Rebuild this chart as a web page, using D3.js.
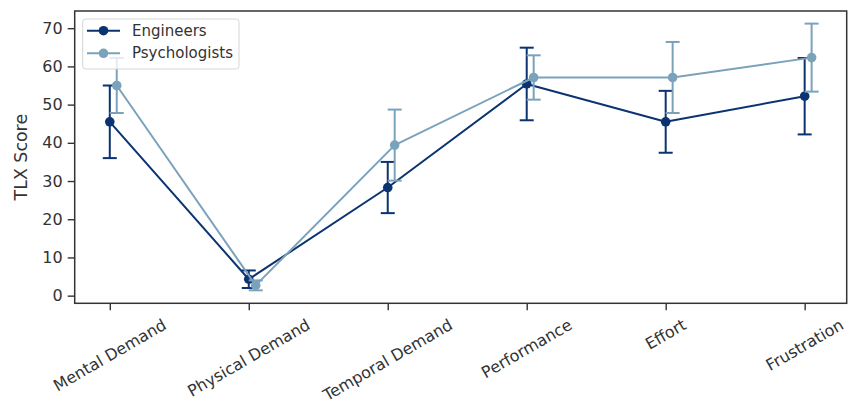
<!DOCTYPE html>
<html>
<head>
<meta charset="utf-8">
<script src="https://cdn.jsdelivr.net/npm/d3@7"></script>
<style>
  html, body { margin: 0; padding: 0; background: #fff; }
  svg { display: block; font-family: "DejaVu Sans", sans-serif; }
</style>
</head>
<body>
<svg id="chart" width="850" height="410"></svg>
<script>
const categories = ["Mental Demand", "Physical Demand", "Temporal Demand", "Performance", "Effort", "Frustration"];
const seriesNames = ["Engineers", "Psychologists"];
const engineersMean = [45.5, 4.3, 28.3, 55.4, 45.5, 52.2];
const engineersErr = [9.5, 2.3, 6.7, 9.5, 8.1, 10.0];
const psychologistsMean = [55.0, 2.7, 39.4, 57.1, 57.1, 62.3];
const psychologistsErr = [7.2, 1.3, 9.3, 5.8, 9.3, 8.9];
const yTicks = [0, 10, 20, 30, 40, 50, 60, 70];

const colors = { Engineers: "#0b3371", Psychologists: "#7aa2bb" };
const textColor = "#333333";

const svg = d3.select("#chart");
const plotLeft = 74.7, plotRight = 846.7, plotTop = 11, plotBottom = 303.3;

const x = d3.scaleLinear().domain([-0.2525, 5.3025]).range([plotLeft, plotRight]);
const y = d3.scaleLinear().domain([-2.0, 74.5]).range([plotBottom, plotTop]);
const dodge = [0, 0.05];

const series = [
  { name: seriesNames[0], mean: engineersMean, err: engineersErr, off: dodge[0] },
  { name: seriesNames[1], mean: psychologistsMean, err: psychologistsErr, off: dodge[1] }
];

// Y axis
const yAxis = d3.axisLeft(y).tickValues(yTicks).tickSize(7).tickPadding(5);
const gy = svg.append("g").attr("transform", `translate(${plotLeft},0)`).call(yAxis);
gy.select(".domain").remove();
gy.selectAll(".tick line").attr("stroke", "#333").attr("stroke-width", 1.4);
gy.selectAll(".tick text").attr("fill", textColor).style("font-size", "16px")
  .style("font-family", "DejaVu Sans");

// X axis
const xAxis = d3.axisBottom(x).tickValues(d3.range(categories.length)).tickSize(7).tickFormat("");
const gx = svg.append("g").attr("transform", `translate(0,${plotBottom})`).call(xAxis);
gx.select(".domain").remove();
gx.selectAll(".tick line").attr("stroke", "#333").attr("stroke-width", 1.4);

// Rotated x labels, bbox centred under tick like matplotlib
const fs = 16, lineH = fs * 1.164;
const rad = 30 * Math.PI / 180;
categories.forEach((c, i) => {
  const t = svg.append("text")
    .text(c)
    .attr("fill", textColor)
    .style("font-size", fs + "px")
    .attr("text-anchor", "middle")
    .attr("dominant-baseline", "central");
  const w = t.node().getComputedTextLength();
  const H = w * Math.sin(rad) + lineH * Math.cos(rad);
  const cy = plotBottom + 7 + 5 + H / 2;
  t.attr("transform", `translate(${x(i)},${cy}) rotate(-30)`);
});

// Y label
svg.append("text")
  .text("TLX Score")
  .attr("fill", textColor)
  .style("font-size", "17.4px")
  .attr("text-anchor", "middle")
  .attr("dominant-baseline", "central")
  .attr("transform", `translate(21,${(plotTop + plotBottom) / 2}) rotate(-90)`);

// Series
const cap = 7;
const line = d3.line().x(d => d[0]).y(d => d[1]);
series.forEach(s => {
  const col = colors[s.name];
  const g = svg.append("g");
  const pts = s.mean.map((m, i) => [x(i + s.off), y(m)]);
  s.mean.forEach((m, i) => {
    const cx = x(i + s.off);
    const y1 = y(m - s.err[i]), y2 = y(m + s.err[i]);
    g.append("line").attr("x1", cx).attr("x2", cx).attr("y1", y1).attr("y2", y2)
      .attr("stroke", col).attr("stroke-width", 2);
    [y1, y2].forEach(yy => g.append("line").attr("x1", cx - cap).attr("x2", cx + cap)
      .attr("y1", yy).attr("y2", yy).attr("stroke", col).attr("stroke-width", 2));
  });
  g.append("path").attr("d", line(pts)).attr("fill", "none")
    .attr("stroke", col).attr("stroke-width", 2).attr("stroke-linejoin", "round");
  g.selectAll("circle").data(pts).enter().append("circle")
    .attr("cx", d => d[0]).attr("cy", d => d[1]).attr("r", 4.8).attr("fill", col);
});

// Frame
svg.append("rect").attr("x", plotLeft).attr("y", plotTop).attr("width", plotRight - plotLeft).attr("height", plotBottom - plotTop)
  .attr("fill", "none").attr("stroke", "#333").attr("stroke-width", 1.5);

// Legend
const lg = svg.append("g");
lg.append("rect").attr("x", 82.7).attr("y", 19).attr("width", 156.3).attr("height", 50)
  .attr("rx", 3).attr("fill", "#fff").attr("fill-opacity", 0.8)
  .attr("stroke", "#d6d6d6").attr("stroke-width", 1);
series.forEach((s, i) => {
  const yy = 30.7 + i * 22.6;
  const col = colors[s.name];
  lg.append("line").attr("x1", 87).attr("x2", 120).attr("y1", yy).attr("y2", yy)
    .attr("stroke", col).attr("stroke-width", 2);
  lg.append("circle").attr("cx", 103.5).attr("cy", yy).attr("r", 4.8).attr("fill", col);
  lg.append("text").text(s.name).attr("x", 132).attr("y", yy)
    .attr("dominant-baseline", "central").attr("fill", textColor).style("font-size", "15px");
});
</script>
</body>
</html>
